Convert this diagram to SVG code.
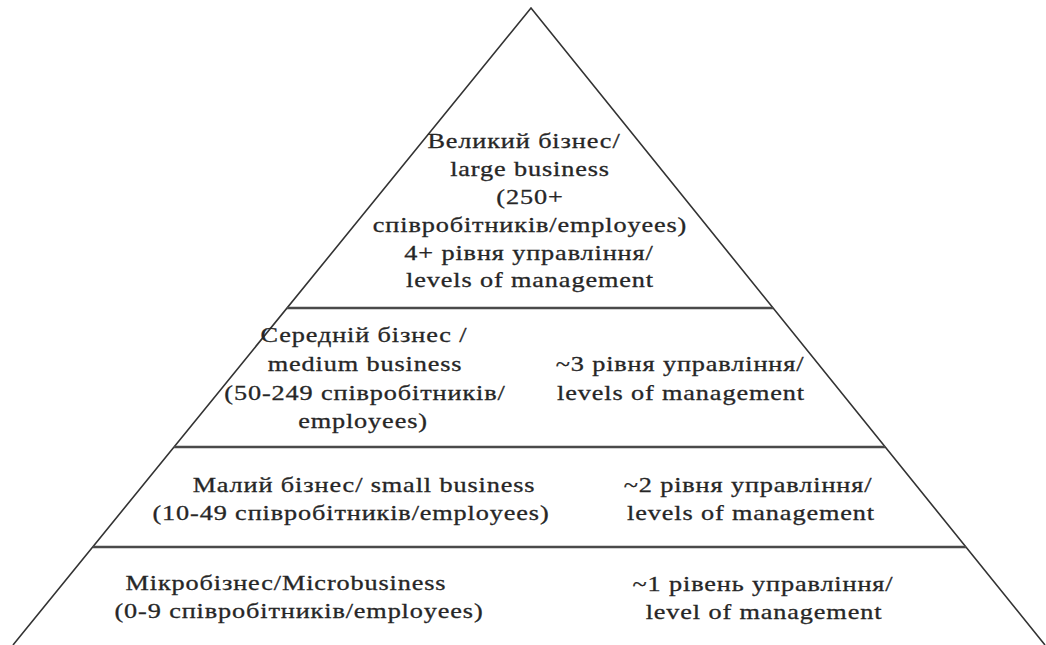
<svg xmlns="http://www.w3.org/2000/svg" width="1046" height="645" viewBox="0 0 1046 645">
  <style>
    .edge { fill: none; stroke: #333333; stroke-width: 1.6; stroke-linejoin: miter; }
    .sep { fill: none; stroke: #4a4a4a; stroke-width: 2.6; }
    text { font-family: "Liberation Serif", "Noto Serif", serif; font-size: 21px; fill: #262626; stroke: #262626; stroke-width: 0.3px; text-anchor: middle; letter-spacing: 0.7px; }
  </style>
  <rect width="1046" height="645" fill="#ffffff"/>
  <g id="pyramid">
    <path class="edge" d="M13,645 L531,8 L1045,645"/>
    <line class="sep" x1="287" y1="308" x2="773" y2="308"/>
    <line class="sep" x1="174" y1="447" x2="885" y2="447"/>
    <line class="sep" x1="93" y1="547" x2="966" y2="547"/>
  </g>
  <g id="tier-large">
    <text transform="translate(524,148) scale(1.25,1)">Великий бізнес/</text>
    <text transform="translate(530,176) scale(1.25,1)">large business</text>
    <text transform="translate(530,204) scale(1.25,1)">(250+</text>
    <text transform="translate(530,232) scale(1.25,1)">співробітників/employees)</text>
    <text transform="translate(529,260) scale(1.25,1)">4+ рівня управління/</text>
    <text transform="translate(530,287) scale(1.25,1)">levels of management</text>
  </g>
  <g id="tier-medium">
    <text transform="translate(364,342) scale(1.25,1)">Середній бізнес /</text>
    <text transform="translate(365,371) scale(1.25,1)">medium business</text>
    <text transform="translate(365,400) scale(1.25,1)">(50-249 співробітників/</text>
    <text transform="translate(363,428) scale(1.25,1)">employees)</text>
    <text transform="translate(680,371) scale(1.25,1)">~3 рівня управління/</text>
    <text transform="translate(681,400) scale(1.25,1)">levels of management</text>
  </g>
  <g id="tier-small">
    <text transform="translate(364,492) scale(1.25,1)">Малий бізнес/ small business</text>
    <text transform="translate(351,520) scale(1.25,1)">(10-49 співробітників/employees)</text>
    <text transform="translate(748,492) scale(1.25,1)">~2 рівня управління/</text>
    <text transform="translate(751,520) scale(1.25,1)">levels of management</text>
  </g>
  <g id="tier-micro">
    <text transform="translate(286,590) scale(1.25,1)">Мікробізнес/Microbusiness</text>
    <text transform="translate(299,618) scale(1.25,1)">(0-9 співробітників/employees)</text>
    <text transform="translate(763,591) scale(1.25,1)">~1 рівень управління/</text>
    <text transform="translate(764,619) scale(1.25,1)">level of management</text>
  </g>
</svg>
